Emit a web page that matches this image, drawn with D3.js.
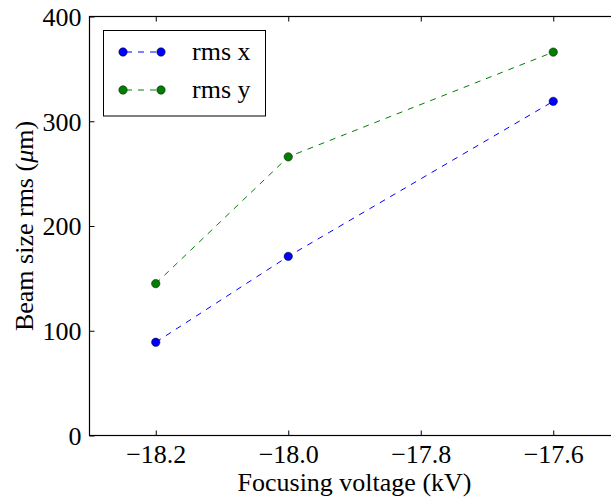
<!DOCTYPE html>
<html>
<head>
<meta charset="utf-8">
<script src="https://cdn.jsdelivr.net/npm/d3@7"></script>
<style>
  html, body { margin: 0; padding: 0; background: #fff; }
  svg { display: block; }
</style>
</head>
<body>
<svg id="chart" width="611" height="503"></svg>
<script>
// Focusing voltage scan (kV) and measured beam size rms (µm)
const voltages = [-18.2, -18.0, -17.6];
const rmsX = [89, 171, 319];
const rmsY = [145, 266, 366];
const seriesNames = ["rms x", "rms y"];
const seriesColors = ["#0000ff", "#008000"];
const xTicks = [-18.2, -18.0, -17.8, -17.6];
const yTicks = [0, 100, 200, 300, 400];

const FONT = "'Liberation Serif', 'Times New Roman', serif";
const W = 611, H = 503;
const margin = { left: 89.5, top: 16.5, bottom: 67.5 };
const svg = d3.select("#chart");

// x domain continues past the right edge of the canvas
const x = d3.scaleLinear().domain([-18.3, -17.5]).range([margin.left, margin.left + 530]);
const y = d3.scaleLinear().domain([0, 400]).range([H - margin.bottom, margin.top]);

const fmtX = d => (d < 0 ? "\u2212" : "") + Math.abs(d).toFixed(1);

const x0 = x.range()[0], x1 = x.range()[1];
const y0 = y.range()[0], y1 = y.range()[1];

// Inward ticks on every side
const tickLen = 5;
const axB = svg.append("g").attr("transform", `translate(0,${y0})`)
  .call(d3.axisBottom(x).tickValues(xTicks).tickFormat(fmtX).tickSizeInner(-tickLen).tickSizeOuter(0).tickPadding(9));
const axT = svg.append("g").attr("transform", `translate(0,${y1})`)
  .call(d3.axisTop(x).tickValues(xTicks).tickFormat("").tickSizeInner(-tickLen).tickSizeOuter(0));
const axL = svg.append("g").attr("transform", `translate(${x0},0)`)
  .call(d3.axisLeft(y).tickValues(yTicks).tickFormat(d3.format("d")).tickSizeInner(-tickLen).tickSizeOuter(0).tickPadding(8));
const axR = svg.append("g").attr("transform", `translate(${x1},0)`)
  .call(d3.axisRight(y).tickValues(yTicks).tickFormat("").tickSizeInner(-tickLen).tickSizeOuter(0));

[axB, axT, axL, axR].forEach(g => {
  g.attr("font-family", null).attr("font-size", null);
  g.select(".domain").remove();
  g.selectAll(".tick line").attr("stroke", "#000").attr("stroke-width", 1);
  g.selectAll("text")
    .style("font-family", FONT).style("font-size", "26px").attr("fill", "#000");
});
axB.selectAll("text").attr("dy", "0.71em");
axL.selectAll("text").attr("dy", "0.34em");

// Frame
svg.append("rect")
  .attr("x", x0).attr("y", y1)
  .attr("width", x1 - x0).attr("height", y0 - y1)
  .attr("fill", "none").attr("stroke", "#000").attr("stroke-width", 1.2);

// Series
const series = [rmsX, rmsY];
const line = d3.line().x(d => x(d[0])).y(d => y(d[1]));
series.forEach((vals, i) => {
  const pts = voltages.map((v, j) => [v, vals[j]]);
  svg.append("path").datum(pts)
    .attr("d", line)
    .attr("fill", "none")
    .attr("stroke", seriesColors[i])
    .attr("stroke-width", 1)
    .attr("stroke-dasharray", "6,6");
  svg.append("g").selectAll("circle").data(pts).join("circle")
    .attr("cx", d => x(d[0])).attr("cy", d => y(d[1]))
    .attr("r", 4.2)
    .attr("fill", seriesColors[i])
    .attr("stroke", "#000").attr("stroke-width", 0.5);
});

// Axis titles
svg.append("text")
  .attr("x", (x0 + x1) / 2).attr("y", 491)
  .attr("text-anchor", "middle")
  .style("font-family", FONT).style("font-size", "26px")
  .text("Focusing voltage (kV)");

const yl = svg.append("text")
  .attr("transform", `translate(33,${(y0 + y1) / 2}) rotate(-90)`)
  .attr("text-anchor", "middle")
  .style("font-family", FONT).style("font-size", "26px");
yl.append("tspan").text("Beam size rms (");
yl.append("tspan").attr("font-style", "italic").text("\u03bc");
yl.append("tspan").text("m)");

// Legend
const lg = svg.append("g");
lg.append("rect")
  .attr("x", 103.5).attr("y", 30.5).attr("width", 162).attr("height", 85.5)
  .attr("fill", "#fff").attr("stroke", "#000").attr("stroke-width", 1);
seriesNames.forEach((name, i) => {
  const ly = 52 + i * 38;
  lg.append("line")
    .attr("x1", 123).attr("x2", 161).attr("y1", ly).attr("y2", ly)
    .attr("stroke", seriesColors[i]).attr("stroke-width", 1).attr("stroke-dasharray", "6,6")
    .attr("stroke-dashoffset", -3);
  [123, 161].forEach(cx => lg.append("circle")
    .attr("cx", cx).attr("cy", ly).attr("r", 4.2)
    .attr("fill", seriesColors[i]).attr("stroke", "#000").attr("stroke-width", 0.5));
  lg.append("text")
    .attr("x", 192).attr("y", ly).attr("dy", "0.32em")
    .style("font-family", FONT).style("font-size", "26px")
    .text(name);
});
</script>
</body>
</html>
